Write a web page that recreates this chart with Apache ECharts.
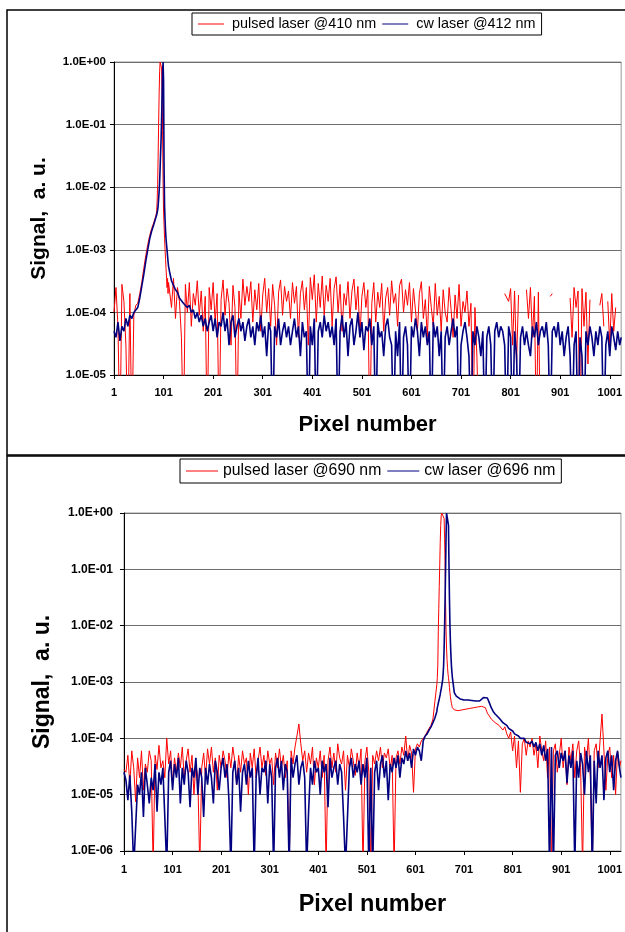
<!DOCTYPE html>
<html>
<head>
<meta charset="utf-8">
<script src="https://cdn.jsdelivr.net/npm/echarts@6/dist/echarts.min.js"></script>
<style>
  html, body { margin: 0; padding: 0; background: #fff; }
  #chart { width: 625px; height: 932px; }
</style>
</head>
<body>
<div id="chart"></div>
<script>
function span(from, to, step) {
  const out = [];
  for (let p = from; p <= to; p += step) out.push(p);
  return out;
}
const topPixels = [].concat(span(1, 85, 4), span(86, 111, 1), span(113, 1021, 4), [1024]);
const bottomPixels = [].concat(span(1, 645, 4), span(646, 677, 1), span(681, 1021, 4), [1024]);

const xTickLabels = ['1', '101', '201', '301', '401', '501', '601', '701', '801', '901', '1001'];

// ---- upper panel: 410 / 412 nm ----
const pulsed410 = [
  1e-4, 2.5e-4, 6e-5, 1e-6, 2.8e-4, 1.5e-4, 3e-5, 1e-6, 2e-4, 1e-6, 9e-5, 1.3e-4, 1.4e-4, 2e-4, 3e-4, 5e-4, 8e-4, 1.2e-3, 1.7e-3, 2.2e-3, 2.7e-3, 3.4e-3,
  3.6e-3, 4e-3, 6e-3, 1.1e-2, 3e-2, 0.1, 0.3, 0.7, 1, 1, 1, 0.8, 0.3, 0.08, 1.2e-2, 4e-3, 2.5e-3, 1.5e-3, 1e-3, 7e-4, 5e-4, 3.5e-4, 2.5e-4, 3.5e-4, 2e-4, 3e-4,
  3e-4, 1.2e-4, 3.5e-4, 8e-5, 2.5e-4, 1.5e-4, 4e-5, 1e-6, 2.8e-4, 1e-4, 3e-4, 6e-5, 2e-4, 1.3e-4, 3.2e-4, 9e-5, 2.2e-4, 5e-5, 1.8e-4, 1e-6,
  2.5e-4, 1.1e-4, 3e-4, 7e-5, 2e-4, 1e-6, 1.6e-4, 3.3e-4, 9e-5, 2.4e-4, 1.4e-4, 3e-5, 2.7e-4, 1.2e-4, 1e-6, 2.2e-4, 8e-5, 3.4e-4, 1.3e-4, 2.6e-4,
  1.5e-4, 3.1e-4, 7e-5, 2.3e-4, 1.1e-4, 2.9e-4, 5e-5, 1.9e-4, 3.5e-4, 1e-4, 2.4e-4, 6e-5, 2.8e-4, 1.3e-4, 3e-5, 2.1e-4, 3.3e-4, 9e-5, 2.6e-4, 1.5e-4,
  2.2e-4, 8e-5, 3e-4, 1.4e-4, 2.6e-4, 4e-5, 2e-4, 3.2e-4, 1.1e-4, 2.5e-4, 3e-5, 3.6e-4, 1.6e-4, 4e-4, 7e-5, 2.9e-4, 1.2e-4, 3.8e-4, 9e-5, 2.7e-4,
  1.5e-4, 3.5e-4, 6e-5, 2.4e-4, 3.7e-4, 1e-4, 2.8e-4, 5e-5, 2e-4, 1.3e-4, 3.1e-4, 8e-5, 2.2e-4, 3.4e-4, 1.1e-4, 2.6e-4, 4e-5, 1.8e-4, 3e-4, 1.2e-4,
  2.3e-4, 1e-6, 1.4e-4, 3e-4, 7e-5, 2.1e-4, 1.2e-4, 2.9e-4, 5e-5, 1.7e-4, 2.5e-4, 9e-5, 3.2e-4, 1.4e-4, 2e-4, 6e-5, 2.7e-4, 3.4e-4, 1e-4, 2.3e-4,
  1.3e-4, 3e-4, 7e-5, 2.4e-4, 1.1e-4, 5e-5, 2e-4, 3.1e-4, 8e-5, 1.6e-4, 4e-5, 2.6e-4, 1.2e-4, 6e-5, 2.9e-4, 9e-5, 1.8e-4, 5e-5, 2.3e-4, 1e-4,
  7e-5, 2.5e-4, 1.1e-4, 4e-5, 1.9e-4, 8e-5, 2.8e-4, 6e-5, 1.5e-4, 1e-4, 2.2e-4, 6e-5, 1.4e-4, 1e-6, 1.2e-4, 2e-5, 1e-6, null, null, null,
  null, null, null, null, null, null, null, null, null, 2e-4, 2.1e-4, 1.5e-4, 2.4e-4, 3e-5, 2.2e-4, 1.5e-5, 1.9e-4, null, null, null,
  2.3e-4, 8e-5, 2.5e-4, 4e-5, 1.8e-4, 1e-6, 2.1e-4, 1e-6, null, null, null, null, 1.8e-4, 2e-4, null, null, null, null, null, null,
  null, null, 1.7e-4, 4e-5, 2.5e-4, 1.2e-4, 2.2e-4, 1e-6, 2.4e-4, 6e-5, 2.1e-4, 1.5e-5, 1.6e-4, null, null, null, null, 1.3e-4, 2e-4, 6e-5,
  null, 1.5e-4, 3e-5, 2e-4, 5e-5, 1.2e-4, null, null,
  null
];
const cw412 = [
  5e-5, 4e-5, 7e-5, 3.5e-5, 6e-5, 5e-5, 8e-5, 6e-5, 9e-5, 8e-5, 1e-4, 1e-4, 1.2e-4, 1.7e-4, 2.6e-4, 4e-4, 6.5e-4, 1e-3, 1.5e-3, 2e-3, 2.5e-3, 3.2e-3,
  3.4e-3, 3.6e-3, 3.9e-3, 4.3e-3, 5e-3, 6.5e-3, 8.5e-3, 1.2e-2, 2e-2, 3.5e-2, 6e-2, 0.12, 0.3, 0.7, 1, 0.5, 2e-2, 5e-3, 3e-3, 2e-3, 1.5e-3, 1.2e-3, 1e-3, 8e-4, 6.5e-4, 5.5e-4,
  4.5e-4, 3.2e-4, 2.7e-4, 2.3e-4, 2.1e-4, 1.7e-4, 1.8e-4, 1.4e-4, 1.5e-4, 1.2e-4, 1.3e-4, 1e-4, 1.1e-4, 8e-5, 1e-4, 7e-5, 9e-5, 6e-5, 8e-5, 5e-5,
  7e-5, 9e-5, 5e-5, 8e-5, 4e-5, 7e-5, 6e-5, 1e-4, 5e-5, 8e-5, 3e-5, 7e-5, 9e-5, 4e-5, 6e-5, 8e-5, 5e-5, 7e-5, 3.5e-5, 6e-5,
  8e-5, 4e-5, 6e-5, 3e-5, 7e-5, 5e-5, 9e-5, 4e-5, 6e-5, 2e-5, 7e-5, 5e-5, 1e-6, 6e-5, 4e-5, 8e-5, 3e-5, 5e-5, 7e-5, 4e-5,
  6e-5, 3e-5, 5e-5, 8e-5, 4e-5, 6e-5, 2e-5, 7e-5, 4e-5, 5e-5, 1e-6, 6e-5, 3e-5, 8e-5, 1e-6, 5e-5, 7e-5, 4e-5, 9e-5, 5e-5,
  7e-5, 4e-5, 6e-5, 3e-5, 8e-5, 1e-6, 5e-5, 9e-5, 4e-5, 7e-5, 2e-5, 6e-5, 8e-5, 3e-5, 5e-5, 1e-4, 4e-5, 7e-5, 2.5e-5, 6e-5,
  5e-5, 8e-5, 3e-5, 6e-5, 1e-6, 7e-5, 4e-5, 5e-5, 2e-5, 6e-5, 8e-5, 4e-5, 3e-5, 1e-6, 5e-5, 2e-5, 7e-5, 1e-6, 4e-5, 6e-5,
  3e-5, 1e-6, 6e-5, 4e-5, 8e-5, 5e-5, 2e-5, 7e-5, 4e-5, 6e-5, 3e-5, 5e-5, 1e-6, 7e-5, 4e-5, 6e-5, 2e-5, 5e-5, 1e-6, 4e-5,
  6e-5, 3e-5, 5e-5, 8e-5, 4e-5, 6e-5, 1e-6, 3e-5, 5e-5, 7e-5, 4e-5, 2e-5, 1e-6, 5e-5, 3e-5, 6e-5, 4e-5, 2e-5, 5e-5, 1e-6,
  4e-5, 6e-5, 3e-5, 1e-6, 5e-5, 7e-5, 4e-5, 6e-5, 5e-5, 3e-5, 1e-6, 6e-5, 4e-5, 1e-6, 5e-5, 2e-5, 1e-6, 4e-5, 6e-5, 3e-5,
  5e-5, 3e-5, 2e-5, 6e-5, 4e-5, 7e-5, 3e-5, 5e-5, 6e-5, 4e-5, 7e-5, 3e-5, 1e-6, 5e-5, 6e-5, 4e-5, 7e-5, 3e-5, 5e-5, 2e-5,
  4e-5, 6e-5, 2e-5, 1e-6, 3e-5, 5e-5, 1e-6, 4e-5, 2e-5, 1e-6, 5e-5, 3e-5, 6e-5, 4e-5, 2e-5, 5e-5, 3e-5, 6e-5, 4e-5, 1e-6,
  3e-5, 5e-5, 2e-5, 6e-5, 4e-5, 2.5e-5, 5e-5, 3e-5,
  4e-5
];

// ---- lower panel: 690 / 696 nm ----
const pulsed690 = [
  2.8e-5, 2.5e-5, 5e-5, 1.5e-5, 6e-5, 3e-5, 7.5e-6, 4.5e-5, 2e-5, 6e-5, 1.2e-5, 3.5e-5, 2.5e-5, 6e-5, 4e-5, 5e-7, 5e-5, 2.8e-5, 7.5e-5, 3e-5,
  4e-5, 2e-5, 1e-4, 3.5e-5, 6e-5, 1.5e-5, 4.5e-5, 2.5e-5, 5.5e-5, 3e-5, 7e-5, 2e-5, 4e-5, 6.5e-5, 2.5e-5, 5e-5, 1e-5, 3.5e-5, 2e-5, 5e-7,
  3e-5, 5.5e-5, 2e-5, 6.5e-5, 3.5e-5, 7e-5, 2.5e-5, 4.5e-5, 1.2e-5, 5e-5, 3e-5, 6e-5, 4e-5, 2e-5, 5.5e-5, 3e-5, 7e-5, 4e-5, 1.5e-5, 5e-5,
  2.5e-5, 6e-5, 3.5e-5, 4.5e-5, 1e-5, 5.5e-5, 3e-5, 6.5e-5, 2e-5, 4e-5, 7e-5, 3e-5, 5e-5, 2.2e-5, 6e-5, 3.5e-5, 4.5e-5, 1.5e-5, 5.5e-5, 3e-5,
  6.5e-5, 3e-5, 5e-5, 2e-5, 4e-5, 5e-7, 6e-5, 3.5e-5, 7e-5, 1.1e-4, 1.8e-4, 8e-5, 4e-5, 6e-5, 2.5e-5, 5.5e-5, 3.5e-5, 7e-5, 1.5e-5, 4.5e-5,
  3e-5, 6e-5, 2e-5, 5e-5, 5e-7, 4e-5, 7e-5, 3e-5, 5.5e-5, 2.5e-5, 8e-5, 4.5e-5, 3.5e-5, 6e-5, 1.2e-5, 5e-5, 3e-5, 6.5e-5, 4e-5, 2.2e-5,
  5.5e-5, 3e-5, 6.5e-5, 5e-7, 4e-5, 7e-5, 2.5e-5, 5e-7, 5e-5, 3.5e-5, 6e-5, 4e-5, 7e-5, 3e-5, 5.5e-5, 4.5e-5, 6.5e-5, 2.8e-5, 5e-5, 5e-7,
  4.5e-5, 6e-5, 3.5e-5, 7e-5, 5e-5, 1.1e-4, 4e-5, 7.5e-5, 5.5e-5, 1.1e-5, 6.5e-5, 8e-5, 7e-5, 9e-5, 1e-4, 1.1e-4, 1.3e-4, 1.5e-4, 1.7e-4, 2.2e-4,
  4.5e-4, 9e-4,
  1.2e-3, 2e-3, 8e-3, 2e-2, 5e-2, 0.12, 0.3, 0.6, 0.9, 1, 1, 1, 1, 1, 0.8, 0.35, 0.12, 2.5e-2, 8e-3, 4e-3, 2.5e-3, 1.8e-3, 1.4e-3, 1.2e-3, 1e-3, 8e-4, 6.5e-4, 5.5e-4, 4.7e-4, 4.2e-4, 3.8e-4, 3.5e-4,
  3.2e-4, 3e-4, 3.1e-4, 2.9e-4, 3.2e-4, 3e-4, 3.3e-4, 3.1e-4, 3.4e-4, 3.2e-4, 3.5e-4, 3.3e-4, 3.6e-4, 3.4e-4, 3.7e-4, 4e-4, 3.5e-4, 2.8e-4, 2.5e-4, 2.2e-4,
  2.2e-4, 1.9e-4, 2e-4, 1.7e-4, 1.8e-4, 1.4e-4, 1.6e-4, 1.2e-4, 1e-4, 1.3e-4, 6e-5, 1.1e-4, 3e-5, 9e-5, 1.1e-5, 8e-5, 1e-4, 5e-5, 9e-5, 7e-5,
  1e-4, 5e-5, 8e-5, 3e-5, 1.1e-4, 6e-5, 4e-5, 9e-5, 2e-5, 7e-5, 5e-7, 6e-5, 8e-5, 2.5e-5, 5e-5, 1e-4, 3e-5, 6e-5, 1.5e-5, 7e-5,
  4e-5, 8e-5, 2e-5, 6e-5, 9e-5, 3e-5, 5e-7, 7e-5, 4e-5, 1e-4, 2e-5, 5e-7, 6e-5, 8e-5, 3e-5, 9e-5, 2.7e-4, 6e-5, 1.2e-5, 5e-5,
  7e-5, 2e-5, 5e-5, 1e-5, 6e-5, 3e-5,
  4e-5
];
const cw696 = [
  2.5e-5, 1.8e-5, 8e-6, 2.2e-5, 5e-6, 5e-7, 5e-7, 1.5e-5, 1e-5, 2.5e-5, 4e-6, 3e-5, 1.5e-5, 7e-6, 2e-5, 1.2e-5, 3.5e-5, 5e-6, 2.5e-5, 1.5e-5,
  3e-5, 4e-6, 5e-7, 2.5e-5, 4e-5, 1.2e-5, 3.5e-5, 2e-5, 4.5e-5, 7e-6, 3e-5, 1.5e-5, 4e-5, 2.5e-5, 6e-6, 3e-5, 2e-5, 4.5e-5, 1e-5, 3e-5,
  2e-5, 4e-6, 3e-5, 1.5e-5, 3.5e-5, 2e-5, 7e-6, 4e-5, 2.5e-5, 1.2e-5, 3e-5, 4.5e-5, 2e-5, 3.5e-5, 8e-6, 5e-7, 2.5e-5, 4e-5, 1.5e-5, 3e-5,
  5e-6, 2.5e-5, 3.5e-5, 1.5e-5, 4e-5, 2e-5, 3e-5, 5e-7, 2e-5, 4.5e-5, 1e-5, 3e-5, 2.5e-5, 4e-5, 7e-6, 3.5e-5, 2e-5, 5e-7, 3e-5, 4.5e-5,
  2e-5, 4e-5, 1.2e-5, 3.5e-5, 2.5e-5, 5e-7, 4.5e-5, 2e-5, 3.5e-5, 5e-5, 1.5e-5, 3e-5, 4e-5, 2e-5, 5e-7, 5e-6, 3e-5, 1.5e-5, 4e-5, 2.5e-5,
  3e-5, 1e-5, 4e-5, 2.5e-5, 3.5e-5, 6e-6, 4.5e-5, 2e-5, 3e-5, 4e-5, 1.5e-5, 3.5e-5, 2.5e-5, 4e-6, 5e-7, 5e-7, 3e-5, 4.5e-5, 2e-5, 3.5e-5,
  2.5e-5, 4e-5, 1.5e-5, 3.5e-5, 2e-5, 4.5e-5, 5e-7, 3e-5, 5e-7, 2.5e-5, 4e-5, 1.2e-5, 3.5e-5, 5e-5, 2e-5, 4e-5, 8e-6, 3.5e-5, 2.5e-5, 4.5e-5,
  3e-5, 5e-5, 2e-5, 4.5e-5, 3.5e-5, 6e-5, 4e-5, 5.5e-5, 3e-5, 6.5e-5, 5e-5, 7e-5, 6e-5, 4e-5, 9e-5, 1.1e-4, 1.2e-4, 1.4e-4, 1.6e-4, 1.9e-4,
  2.3e-4, 3e-4,
  3.5e-4, 3.8e-4, 4.2e-4, 4.6e-4, 5e-4, 5.5e-4, 6e-4, 6.8e-4, 7.5e-4, 8.5e-4, 9.5e-4, 1.1e-3, 1.4e-3, 2e-3, 4e-3, 1e-2, 3e-2, 0.1, 0.4, 1, 1, 1, 1, 0.6, 0.12, 3e-2, 1e-2, 5e-3, 3e-3, 2e-3, 1.5e-3, 1.2e-3,
  6.5e-4, 5.6e-4, 5.2e-4, 5e-4, 4.9e-4, 4.8e-4, 4.7e-4, 4.8e-4, 4.6e-4, 4.7e-4, 4.5e-4, 4.6e-4, 4.4e-4, 4.6e-4, 4.8e-4, 5.3e-4, 5.6e-4, 5.2e-4, 4.3e-4, 3.5e-4,
  3e-4, 2.7e-4, 2.5e-4, 2.3e-4, 2.1e-4, 1.9e-4, 1.8e-4, 1.7e-4, 1.5e-4, 1.4e-4, 1.35e-4, 1.2e-4, 1.15e-4, 1.1e-4, 1e-4, 9.5e-5, 1e-4, 8.5e-5, 9e-5, 8e-5,
  9e-5, 7e-5, 8.5e-5, 6e-5, 8e-5, 5e-5, 7.5e-5, 4e-5, 6.5e-5, 5e-7, 7e-5, 5e-7, 5e-5, 6e-5, 3e-5, 5.5e-5, 4e-5, 6e-5, 1.6e-5, 5e-5,
  3e-5, 6e-5, 5e-7, 4e-5, 2e-5, 5.5e-5, 3.5e-5, 1e-5, 6e-5, 2.5e-5, 5e-5, 5e-7, 4e-5, 7e-6, 6e-5, 3e-5, 5e-5, 8e-6, 4.5e-5, 6e-5,
  2.5e-5, 5e-5, 1.2e-5, 4e-5, 6e-5, 3e-5,
  2e-5
];

const FONT = "'Liberation Sans', Arial, Helvetica, sans-serif";
const RED = '#ff0000';
const NAVY = '#000080';

function pairs(pixels, values) {
  return pixels.map((p, i) => [p - 1, values[i]]);
}

/** Excel-style label, e.g. 1.0E-03 */
function sciLabel(v) {
  const e = Math.round(Math.log10(v));
  return '1.0E' + (e < 0 ? '-' : '+') + String(Math.abs(e)).padStart(2, '0');
}

function xAxisFor(gridIndex, labelMargin, nameGap, nameSize) {
  return {
    gridIndex, type: 'value', min: 0, max: 1023, interval: 100,
    axisLine: { show: true, lineStyle: { color: '#000', width: 1 } },
    axisTick: { show: true, length: 4, lineStyle: { color: '#000' } },
    axisLabel: {
      formatter: v => xTickLabels[Math.round(v / 100)] || '',
      showMaxLabel: false, color: '#000', fontFamily: FONT,
      fontWeight: 'bold', fontSize: 11, margin: labelMargin
    },
    splitLine: { show: false },
    name: 'Pixel number', nameLocation: 'middle', nameGap,
    nameTextStyle: { color: '#000', fontFamily: FONT, fontWeight: 'bold', fontSize: nameSize }
  };
}

function yAxisFor(gridIndex, min, labelSize, labelMargin, nameGap, nameSize) {
  return {
    gridIndex, type: 'log', logBase: 10, min, max: 1, interval: 1,
    axisLine: { show: true, lineStyle: { color: '#000', width: 1 } },
    axisTick: { show: true, length: 4, lineStyle: { color: '#000' } },
    axisLabel: {
      formatter: sciLabel, color: '#000', fontFamily: FONT,
      fontWeight: 'bold', fontSize: labelSize, margin: labelMargin
    },
    splitLine: { show: true, lineStyle: { color: '#6e6e6e', width: 1 } },
    minorTick: { show: false },
    name: 'Signal,  a. u.', nameLocation: 'middle', nameGap,
    nameTextStyle: { color: '#000', fontFamily: FONT, fontWeight: 'bold', fontSize: nameSize }
  };
}

function lineSeries(name, idx, color, width, data) {
  return {
    name, type: 'line', xAxisIndex: idx, yAxisIndex: idx,
    data, color, symbol: 'none', clip: true, connectNulls: false,
    lineStyle: { color, width }, emphasis: { disabled: true }
  };
}

function legendFor(names, left, top, fontSize, itemWidth, vPad, textGap) {
  return {
    data: names, left, top, orient: 'horizontal',
    icon: 'rect', itemWidth, itemHeight: 1, itemGap: 6,
    borderColor: '#000', borderWidth: 1, padding: [vPad, 6, vPad, 6],
    selectedMode: false,
    textStyle: { color: '#000', fontFamily: FONT, fontSize, padding: [0, 0, 0, textGap] }
  };
}

const chart = echarts.init(document.getElementById('chart'), null, { renderer: 'canvas' });
chart.setOption({
  backgroundColor: '#fff',
  animation: false,
  graphic: [
    { type: 'rect', silent: true, shape: { x: 7, y: 10, width: 640, height: 445 },
      style: { fill: 'none', stroke: '#000', lineWidth: 1.5 } },
    { type: 'rect', silent: true, shape: { x: 7, y: 456, width: 640, height: 500 },
      style: { fill: 'none', stroke: '#000', lineWidth: 1.5 } }
  ],
  legend: [
    legendFor(['pulsed laser @410 nm', 'cw laser @412 nm'], 192, 13, 14.4, 26, 4, 3),
    legendFor(['pulsed laser @690 nm', 'cw laser @696 nm'], 180, 459, 15.8, 32, 4, 0)
  ],
  grid: [
    { left: 114, top: 62, width: 509, height: 313, show: true, borderColor: '#999', borderWidth: 1 },
    { left: 124, top: 513, width: 498, height: 338, show: true, borderColor: '#999', borderWidth: 1 }
  ],
  xAxis: [xAxisFor(0, 12, 39, 22), xAxisFor(1, 13, 42, 23.5)],
  yAxis: [yAxisFor(0, 1e-5, 11.5, 8, 64, 21), yAxisFor(1, 1e-6, 12, 11, 70, 23)],
  series: [
    lineSeries('pulsed laser @410 nm', 0, RED, 1, pairs(topPixels, pulsed410)),
    lineSeries('cw laser @412 nm', 0, NAVY, 1.6, pairs(topPixels, cw412)),
    lineSeries('pulsed laser @690 nm', 1, RED, 1, pairs(bottomPixels, pulsed690)),
    lineSeries('cw laser @696 nm', 1, NAVY, 1.6, pairs(bottomPixels, cw696))
  ]
});
</script>
</body>
</html>
